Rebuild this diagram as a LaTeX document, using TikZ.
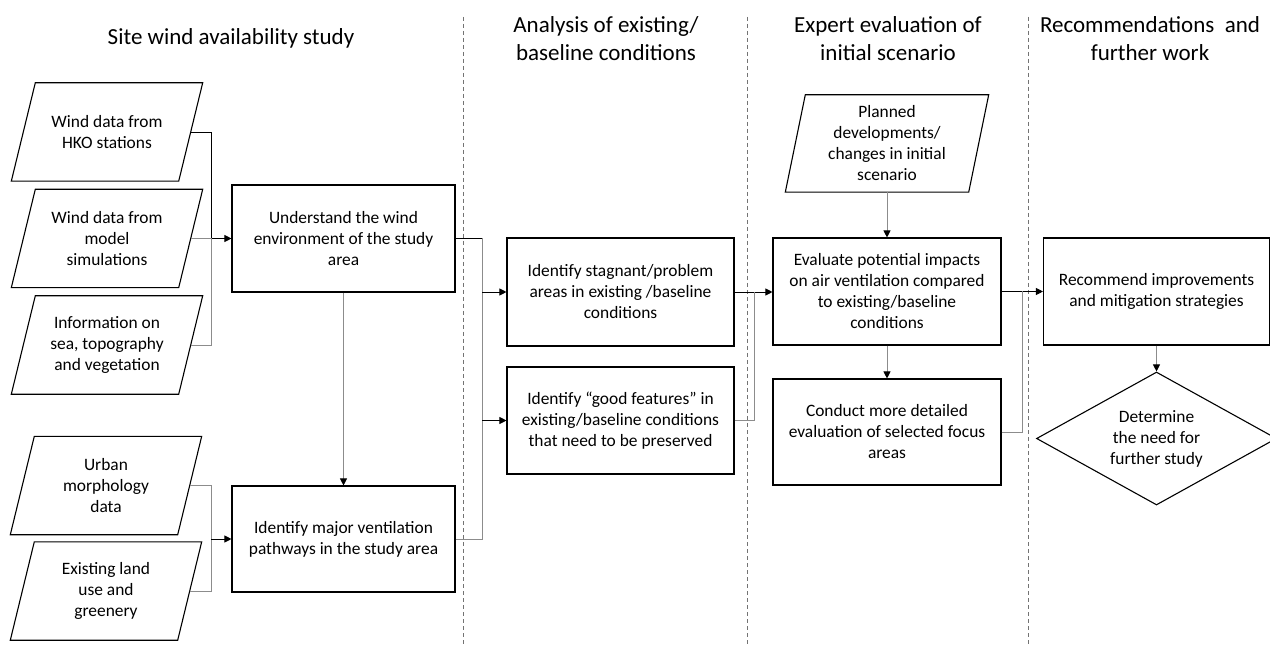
\documentclass[tikz,border=0pt]{standalone}
\usepackage{fontspec}
\setmainfont{Carlito}
\usetikzlibrary{arrows.meta,shapes.geometric}

\tikzset{
  body/.style={font=\fontsize{17.4}{21}\selectfont, align=center, inner sep=0pt},
  stepbox/.style={body, draw, line width=1.1pt, minimum width=#1, minimum height=107},
  databox/.style={body, minimum width=167, minimum height=98},
  header/.style={font=\fontsize{23}{28}\selectfont, align=center, inner sep=0pt},
  blk/.style={draw=black, line width=0.9pt},
  gry/.style={draw=black!45, line width=0.9pt},
  tip/.style={-{Triangle[length=7pt,width=7pt,color=black]}},
  lane/.style={draw=black!55, line width=0.8pt, dash pattern=on 4pt off 3pt},
  outline/.style={draw, line width=1.1pt, line join=miter}
}

% slanted outline for an input/data node: #1 node name, #2 half of the slant
\newcommand\slantframe[2]{%
  \draw[outline] ([xshift=#2]#1.north west) -- ([xshift=#2]#1.north east)
    -- ([xshift=-#2]#1.south east) -- ([xshift=-#2]#1.south west) -- cycle;}

\begin{document}
\begin{tikzpicture}[x=1pt,y=-1pt]
\fill[white] (0,0) rectangle (1270,647);
\useasboundingbox (0,0) rectangle (1270,647);

% lane separators
\draw[lane] (463,17) -- (463,647);
\draw[lane] (747,17) -- (747,647);
\draw[lane] (1028,17) -- (1028,647);

% lane titles
\node[header] (h1) at (231,38) {Site wind availability study};
\node[header] (h2) at (606,39) {Analysis of existing/\\baseline conditions};
\node[header] (h3) at (888,39) {Expert evaluation of\\initial scenario};
\node[header] (h4) at (1150,39) {Recommendations~ and\\further work};

% input data
\node[databox] (p1) at (107,132) {Wind data from\\HKO stations};
\node[databox] (p2) at (107,238.5) {Wind data from\\model\\simulations};
\node[databox] (p3) at (107,345) {Information on\\sea, topography\\and vegetation};
\node[databox] (p4) at (106,485.5) {Urban\\morphology\\data};
\node[databox] (p5) at (106,591) {Existing land\\use and\\greenery};
\node[databox, minimum width=183, minimum height=97] (pp) at (887,143.5)
  {Planned\\developments/\\changes in initial\\scenario};
\slantframe{p1}{12}
\slantframe{p2}{12}
\slantframe{p3}{12}
\slantframe{p4}{12}
\slantframe{p5}{12}
\slantframe{pp}{10}

% process steps
\node[stepbox=223] (b1) at (343.5,238.5) {Understand the wind\\environment of the study\\area};
\node[stepbox=223, minimum height=106] (b2) at (343.5,539) {Identify major ventilation\\pathways in the study area};
\node[stepbox=227, minimum height=108] (b3) at (620.5,292) {Identify stagnant/problem\\areas in existing /baseline\\conditions};
\node[stepbox=227] (b4) at (620.5,420.5) {Identify “good features” in\\existing/baseline conditions\\that need to be preserved};
\node[stepbox=228] (b5) at (887,291.5) {Evaluate potential impacts\\on air ventilation compared\\to existing/baseline\\conditions};
\node[stepbox=228, minimum height=106] (b6) at (887,432) {Conduct more detailed\\evaluation of selected focus\\areas};
\node[stepbox=226] (b7) at (1156.5,291.5) {Recommend improvements\\and mitigation strategies};
\node[body, draw, shape=diamond, line width=1.1pt, aspect=1.8,
      minimum width=240, minimum height=133] (d) at (1156.5,438.5)
  {Determine\\the need for\\further study};

% junction points
\coordinate (m1) at (211,238.5);
\coordinate (m2) at (211,539);
\coordinate (m3) at (482,238.5);
\coordinate (m4) at (482,292);
\coordinate (m5) at (482,420.5);
\coordinate (m6) at (754,292);
\coordinate (m7) at (1022,291.5);

% site wind study
\draw[blk, tip] (p1.east) -| (m1) -- (b1.west);
\draw[gry] (p2.east) -- (m1);
\draw[gry] (p3.east) -| (m1);
\draw[gry] (p4.east) -| (m2);
\draw[gry] (p5.east) -| (m2);
\draw[blk, tip] (m2) -- (b2.west);
\draw[gry, tip] (b1.south) -- (b2.north);

% baseline analysis
\draw[blk] (b1.east) -- (m3);
\draw[gry] (b2.east) -| (m3);
\draw[blk, tip] (m4) -- (b3.west);
\draw[blk, tip] (m5) -- (b4.west);

% expert evaluation
\draw[blk, tip] (b3.east) -- (b3.east -| b5.west);
\draw[gry] (b4.east) -| (m6);
\draw[gry, tip] (pp.south) -- (b5.north);
\draw[gry, tip] (b5.south) -- (b6.north);

% recommendations
\draw[blk, tip] (b5.east) -- (b7.west);
\draw[gry] (b6.east) -| (m7);
\draw[gry, tip] (b7.south) -- (d.north);
\end{tikzpicture}
\end{document}
